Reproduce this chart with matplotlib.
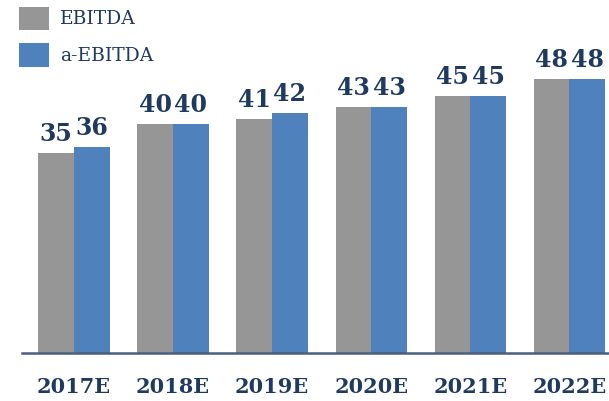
import matplotlib
matplotlib.use("Agg")
import matplotlib.pyplot as plt
import numpy as np

categories = ["2017E", "2018E", "2019E", "2020E", "2021E", "2022E"]
ebitda = [35, 40, 41, 43, 45, 48]
a_ebitda = [36, 40, 42, 43, 45, 48]
series_names = ["EBITDA", "a-EBITDA"]

GRAY = "#969696"
BLUE = "#4F81BD"
NAVY = "#1F3A60"
AXIS = "#4A5F7E"

plt.rcParams['font.family'] = ['DejaVu Serif']

fig = plt.figure(figsize=(6.09, 4.01), dpi=100)
ax = fig.add_axes([22/609, 48/401, (609-22)/609, 343/401])

x = np.arange(len(categories))
w = 0.36
b1 = ax.bar(x - w/2, ebitda, w, color=GRAY, label=series_names[0])
b2 = ax.bar(x + w/2, a_ebitda, w, color=BLUE, label=series_names[1])

for bars in (b1, b2):
    ax.bar_label(bars, padding=5, fontsize=17, fontweight='bold', color=NAVY)

ax.set_xlim(-0.525, 5.40)
ax.set_ylim(0, 60)
ax.set_xticks(x)
ax.set_xticklabels(categories, fontsize=15, fontweight='bold', color=NAVY)
ax.tick_params(axis='x', length=0, pad=17)
ax.set_yticks([])
for s in ['top', 'right', 'left']:
    ax.spines[s].set_visible(False)
ax.spines['bottom'].set_color(AXIS)
ax.spines['bottom'].set_linewidth(1.8)

leg = fig.legend(handles=[b1, b2], labels=series_names, loc='upper left',
                 bbox_to_anchor=(19/609, 1 - 6.5/401), frameon=False,
                 fontsize=13.5, handlelength=1.6, handleheight=1.55,
                 handletextpad=0.6, labelspacing=0.7, borderpad=0,
                 borderaxespad=0)
for t in leg.get_texts():
    t.set_color(NAVY)

fig.savefig("out.png", dpi=100)
